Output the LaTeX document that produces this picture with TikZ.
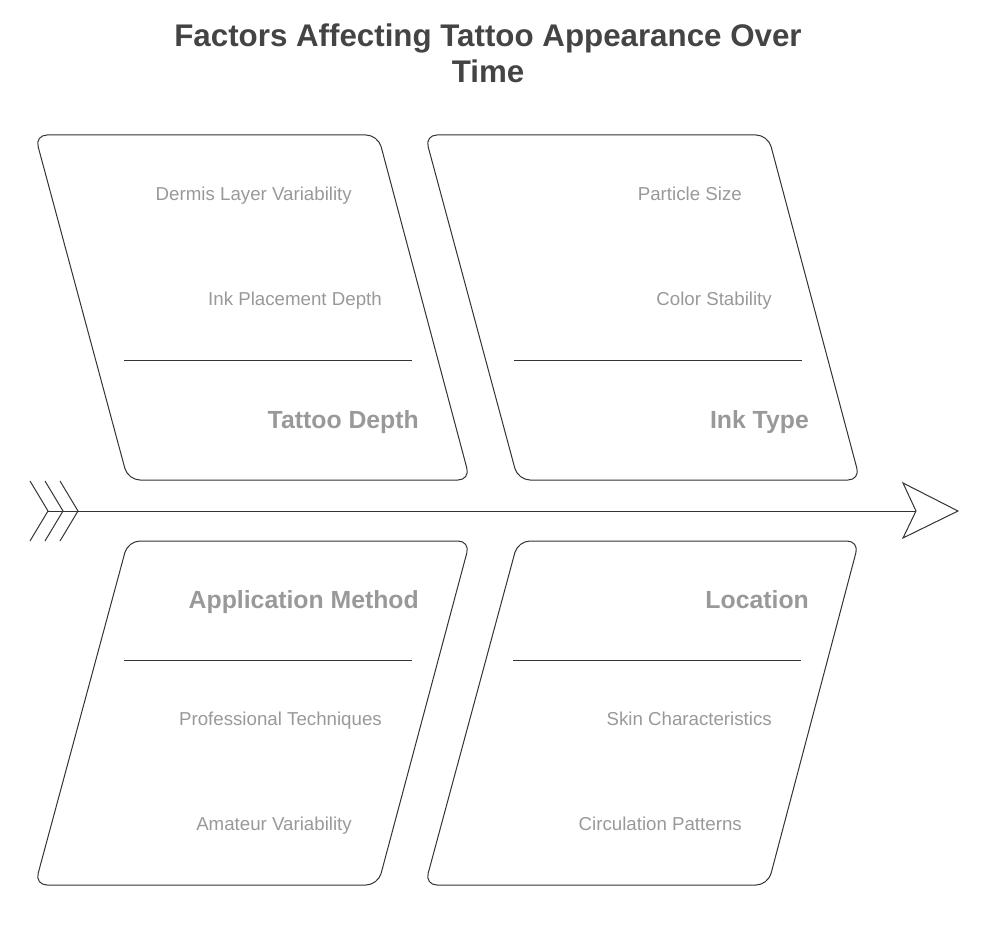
\documentclass[tikz,border=0pt]{standalone}
\usepackage{fontspec}
\setmainfont{Liberation Sans}
\definecolor{titlecol}{HTML}{444444}
\definecolor{labcol}{HTML}{999999}
\definecolor{linecol}{HTML}{333333}
\begin{document}
\begin{tikzpicture}[x=1pt,y=-1pt,
  box/.style={draw=linecol,line width=1pt,rounded corners=12pt,line join=round},
  divider/.style={draw=linecol,line width=0.9pt},
  sub/.style={anchor=base east,text=labcol,inner sep=0pt,font=\fontsize{18.7}{22}\selectfont},
  cat/.style={anchor=base east,text=labcol,inner sep=0pt,font=\fontsize{24.8}{28}\selectfont\bfseries},
  spine/.style={draw=linecol,line width=1pt}]
\useasboundingbox (0,0) rectangle (989,947);
% title
\node[text=titlecol,font=\fontsize{31.3}{36}\selectfont\bfseries,align=center,inner sep=0pt] (title) at (488,53) {Factors Affecting Tattoo Appearance Over\\Time};
% boxes
\draw[box] (35,135) -- (378,135) -- (470,480) -- (128,480) -- cycle;
\draw[box] (425,135) -- (768,135) -- (860,480) -- (518,480) -- cycle;
\draw[box] (128,541) -- (470,541) -- (378,885) -- (35,885) -- cycle;
\draw[box] (518,541) -- (859,541) -- (768,885) -- (425,885) -- cycle;
% dividers
\draw[divider] (124,360) -- (412,360);
\draw[divider] (514,360) -- (802,360);
\draw[divider] (124,660) -- (412,660);
\draw[divider] (513,660) -- (801,660);
% labels
\node[sub] (a1) at (352,200.7) {Dermis Layer Variability};
\node[sub] (a2) at (382,305.7) {Ink Placement Depth};
\node[cat] (a) at (419,428.8) {Tattoo Depth};
\node[sub] (b1) at (742,200.7) {Particle Size};
\node[sub] (b2) at (772,305.7) {Color Stability};
\node[cat] (b) at (809,428.8) {Ink Type};
\node[cat] (c) at (419,608.8) {Application Method};
\node[sub] (c1) at (382,725.7) {Professional Techniques};
\node[sub] (c2) at (352,830.7) {Amateur Variability};
\node[cat] (d) at (809,608.8) {Location};
\node[sub] (d1) at (772,725.7) {Skin Characteristics};
\node[sub] (d2) at (742,830.7) {Circulation Patterns};
% spine
\coordinate (s0) at (48,511);
\coordinate (s1) at (916,511);
\draw[spine] (s0) -- (s1);
\draw[spine,line join=miter] (s1) -- (903,483) -- (958,511) -- (903,538) -- cycle;
\foreach \dx in {0,15,30}{
  \draw[spine] (30+\dx,481) -- (48+\dx,511) -- (30+\dx,541);
}
\end{tikzpicture}
\end{document}
